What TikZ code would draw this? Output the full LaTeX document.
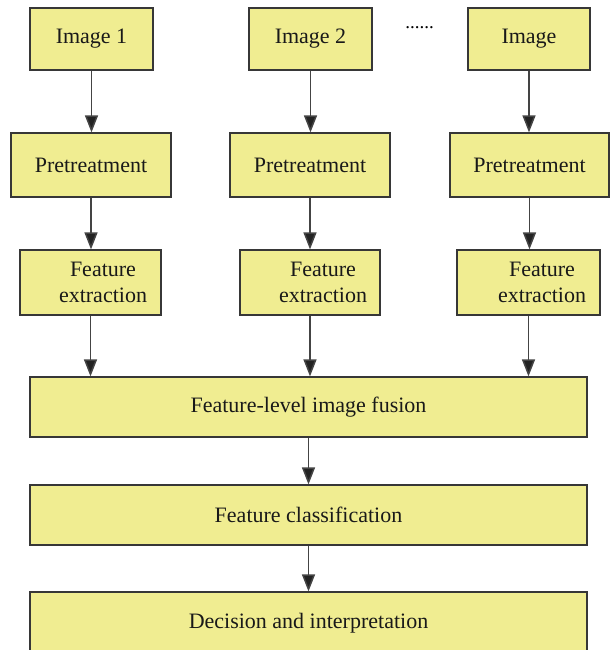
\documentclass[tikz,border=0pt]{standalone}
\usepackage{fontspec}
\setmainfont{Liberation Serif}
\usetikzlibrary{arrows.meta}
\definecolor{boxfill}{RGB}{240,237,145}
\definecolor{boxline}{RGB}{55,55,55}
\definecolor{arrowcol}{RGB}{35,35,35}
\begin{document}
\begin{tikzpicture}[x=1pt,y=-1pt,
  stagebox/.style={draw=boxline,fill=boxfill,line width=1.2pt,inner sep=0pt,
    font=\fontsize{22}{26}\selectfont,text=black!90},
  flow/.style={draw=arrowcol!85,line width=1.5pt,-{Triangle[length=17pt,width=13pt,fill=arrowcol]}}]
\useasboundingbox (0,0) rectangle (612,650);
\begin{scope}
\clip (0,0) rectangle (612,650);
% first row: inputs
\node[stagebox,minimum width=123pt,minimum height=62pt] (img1) at (91.5,39) {Image 1};
\node[stagebox,minimum width=123pt,minimum height=62pt] (img2) at (310.5,39) {Image 2};
\node[stagebox,minimum width=122pt,minimum height=62pt] (img3) at (529,39) {Image};
\node[font=\fontsize{19}{20}\selectfont] (dots) at (419.5,28) {......};
% second row: pretreatment
\node[stagebox,minimum width=160pt,minimum height=64pt] (pre1) at (91,165) {Pretreatment};
\node[stagebox,minimum width=160pt,minimum height=64pt] (pre2) at (310,165) {Pretreatment};
\node[stagebox,minimum width=159pt,minimum height=64pt] (pre3) at (529.5,165) {Pretreatment};
% third row: feature extraction
\node[stagebox,minimum width=141pt,minimum height=65pt] (fe1) at (90.5,282.5) {};
\node[stagebox,minimum width=140pt,minimum height=65pt] (fe2) at (310,282.5) {};
\node[stagebox,minimum width=143pt,minimum height=65pt] (fe3) at (528.5,282.5) {};
\node[font=\fontsize{22}{26}\selectfont,align=center,text=black!90] (fe1t) at (103,282) {Feature\\extraction};
\node[font=\fontsize{22}{26}\selectfont,align=center,text=black!90] (fe2t) at (323,282) {Feature\\extraction};
\node[font=\fontsize{22}{26}\selectfont,align=center,text=black!90] (fe3t) at (542,282) {Feature\\extraction};
% fusion chain
\node[stagebox,minimum width=557pt,minimum height=60pt] (fus) at (308.5,407) {Feature-level image fusion};
\node[stagebox,minimum width=557pt,minimum height=60pt] (cls) at (308.5,515) {Feature classification};
\node[stagebox,minimum width=557pt,minimum height=62pt] (dec) at (308.5,623) {Decision and interpretation};
% connectors
\draw[flow] (img1.south) -- (img1.south |- pre1.north);
\draw[flow] (img2.south) -- (img2.south |- pre2.north);
\draw[flow] (img3.south) -- (img3.south |- pre3.north);
\draw[flow] (pre1.south) -- (pre1.south |- fe1.north);
\draw[flow] (pre2.south) -- (pre2.south |- fe2.north);
\draw[flow] (pre3.south) -- (pre3.south |- fe3.north);
\draw[flow] (fe1.south) -- (fe1.south |- fus.north);
\draw[flow] (fe2.south) -- (fe2.south |- fus.north);
\draw[flow] (fe3.south) -- (fe3.south |- fus.north);
\draw[flow] (fus.south) -- (cls.north);
\draw[flow] (cls.south) -- (dec.north);
\end{scope}
\end{tikzpicture}
\end{document}
